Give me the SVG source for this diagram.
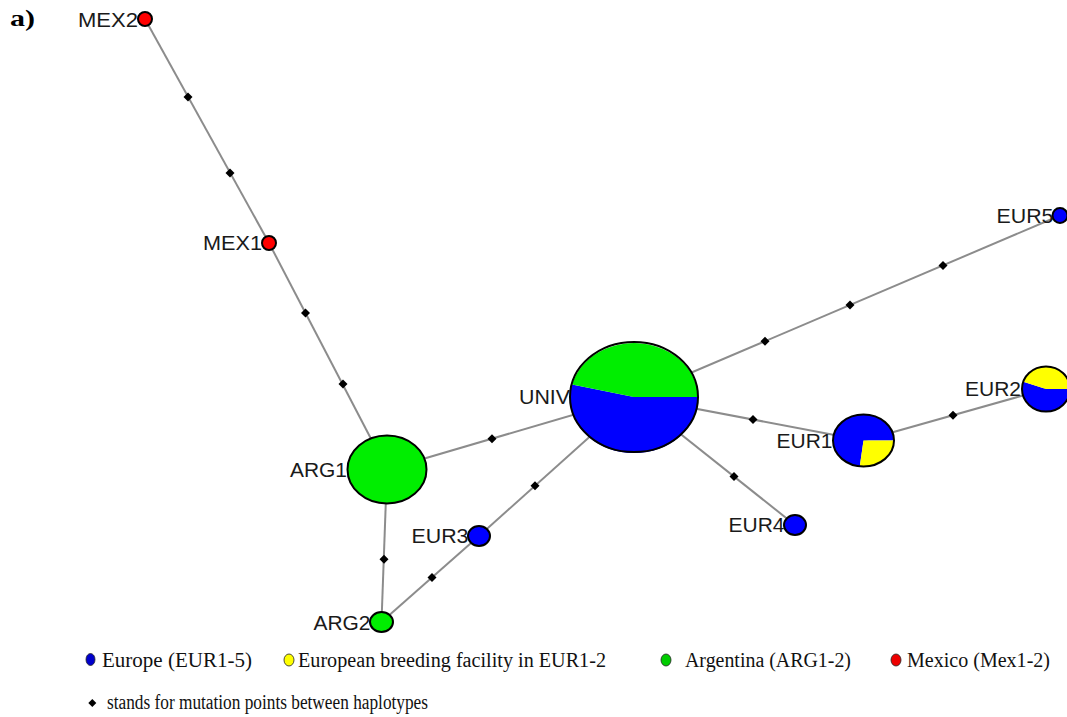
<svg xmlns="http://www.w3.org/2000/svg" width="1067" height="717" viewBox="0 0 1067 717">
<defs>
<style>
.edge{stroke:#8c8c8c;stroke-width:2;fill:none}
.mut{fill:#000}
.outline{fill:none;stroke:#000;stroke-width:2}
.lbl{font-family:"Liberation Sans",Arial,sans-serif;font-size:19.5px;fill:#1a1a1a;text-anchor:end}
.leg{font-family:"Liberation Serif","Times New Roman",serif;font-size:20px;fill:#111}
.blue{fill:#0000ff}
.green{fill:#00ee00}
.yellow{fill:#ffff00}
.red{fill:#ff0000}
</style>
</defs>
<rect width="1067" height="717" fill="#fff"/>
<text x="10" y="26" font-family="Liberation Serif,'Times New Roman',serif" font-size="24" font-weight="bold" fill="#000" textLength="25" lengthAdjust="spacingAndGlyphs">a)</text>

<g id="connectors">
<line class="edge" x1="145" y1="19" x2="269" y2="243"/>
<line class="edge" x1="269" y1="243" x2="387" y2="469.5"/>
<line class="edge" x1="387" y1="469.5" x2="634" y2="397"/>
<line class="edge" x1="387" y1="469.5" x2="381.5" y2="622"/>
<line class="edge" x1="634" y1="397" x2="1060" y2="215.5"/>
<line class="edge" x1="634" y1="397" x2="863.5" y2="440.5"/>
<line class="edge" x1="634" y1="397" x2="795" y2="525"/>
<line class="edge" x1="634" y1="397" x2="479" y2="536"/>
<line class="edge" x1="479" y1="536" x2="381.5" y2="622"/>
<line class="edge" x1="863.5" y1="440.5" x2="1046" y2="389"/>
<g id="mutations">
<polygon class="mut" points="188,92.5 192.5,97 188,101.5 183.5,97"/>
<polygon class="mut" points="230,168.5 234.5,173 230,177.5 225.5,173"/>
<polygon class="mut" points="305.5,308.5 310,313 305.5,317.5 301,313"/>
<polygon class="mut" points="343,379.5 347.5,384 343,388.5 338.5,384"/>
<polygon class="mut" points="492,434.2 496.5,438.7 492,443.2 487.5,438.7"/>
<polygon class="mut" points="384,554.8 388.5,559.3 384,563.8 379.5,559.3"/>
<polygon class="mut" points="765,336.7 769.5,341.2 765,345.7 760.5,341.2"/>
<polygon class="mut" points="850,300.5 854.5,305 850,309.5 845.5,305"/>
<polygon class="mut" points="943,260.9 947.5,265.4 943,269.9 938.5,265.4"/>
<polygon class="mut" points="753,415.1 757.5,419.6 753,424.1 748.5,419.6"/>
<polygon class="mut" points="734,472 738.5,476.5 734,481 729.5,476.5"/>
<polygon class="mut" points="535,481.3 539.5,485.8 535,490.3 530.5,485.8"/>
<polygon class="mut" points="432,573 436.5,577.5 432,582 427.5,577.5"/>
<polygon class="mut" points="953,410.8 957.5,415.3 953,419.8 948.5,415.3"/>
</g>
</g>

<g id="MEX2">
<circle class="red" cx="145" cy="19" r="7"/>
<circle class="outline" cx="145" cy="19" r="7"/>
<text class="lbl" x="138" y="26.5" textLength="60" lengthAdjust="spacingAndGlyphs">MEX2</text>
</g>
<g id="MEX1">
<circle class="red" cx="269" cy="243" r="7"/>
<circle class="outline" cx="269" cy="243" r="7"/>
<text class="lbl" x="262" y="250" textLength="59" lengthAdjust="spacingAndGlyphs">MEX1</text>
</g>
<g id="ARG1">
<ellipse class="green" cx="387" cy="469.5" rx="39.5" ry="34"/>
<ellipse class="outline" cx="387" cy="469.5" rx="39.5" ry="34"/>
<text class="lbl" x="347" y="477" textLength="57" lengthAdjust="spacingAndGlyphs">ARG1</text>
</g>
<g id="ARG2">
<ellipse class="green" cx="381.5" cy="622" rx="11.5" ry="10"/>
<ellipse class="outline" cx="381.5" cy="622" rx="11.5" ry="10"/>
<text class="lbl" x="370.5" y="629.5" textLength="57" lengthAdjust="spacingAndGlyphs">ARG2</text>
</g>
<g id="EUR3">
<ellipse class="blue" cx="479" cy="536" rx="11" ry="10"/>
<ellipse class="outline" cx="479" cy="536" rx="11" ry="10"/>
<text class="lbl" x="468.5" y="543" textLength="57" lengthAdjust="spacingAndGlyphs">EUR3</text>
</g>
<g id="UNIV">
<path class="blue" d="M634,397 L698,397 A64,55 0 1,1 572,384.5 Z"/>
<path class="green" d="M634,397 L572,384.5 A64,55 0 0,1 698,397 Z"/>
<ellipse class="outline" cx="634" cy="397" rx="64" ry="55"/>
<text class="lbl" x="570" y="404" textLength="51" lengthAdjust="spacingAndGlyphs">UNIV</text>
</g>
<g id="EUR4">
<ellipse class="blue" cx="795" cy="525" rx="11" ry="10"/>
<ellipse class="outline" cx="795" cy="525" rx="11" ry="10"/>
<text class="lbl" x="784.5" y="532" textLength="56" lengthAdjust="spacingAndGlyphs">EUR4</text>
</g>
<g id="EUR1">
<path class="blue" d="M863.5,440.5 L859.8,466.3 A30.5,26 0 1,1 894,440.5 Z"/>
<path class="yellow" d="M863.5,440.5 L894,440.5 A30.5,26 0 0,1 859.8,466.3 Z"/>
<ellipse class="outline" cx="863.5" cy="440.5" rx="30.5" ry="26"/>
<text class="lbl" x="832.5" y="447.5" textLength="56" lengthAdjust="spacingAndGlyphs">EUR1</text>
</g>
<g id="EUR2">
<path class="blue" d="M1046,389 L1070,389 A24,22.5 0 1,1 1023.3,381.75 Z"/>
<path class="yellow" d="M1046,389 L1023.3,381.75 A24,22.5 0 0,1 1070,389 Z"/>
<ellipse class="outline" cx="1046" cy="389" rx="24" ry="22.5"/>
<text class="lbl" x="1021" y="395.5" textLength="56" lengthAdjust="spacingAndGlyphs">EUR2</text>
</g>
<g id="EUR5">
<circle class="blue" cx="1060" cy="215.5" r="7.5"/>
<circle class="outline" cx="1060" cy="215.5" r="7.5"/>
<text class="lbl" x="1053.5" y="222.5" textLength="57" lengthAdjust="spacingAndGlyphs">EUR5</text>
</g>

<g id="legend">
<ellipse cx="90.5" cy="659.5" rx="4.5" ry="6" fill="#0000cc" stroke="#222" stroke-width="0.8"/>
<text class="leg" x="102" y="666.5" textLength="150" lengthAdjust="spacingAndGlyphs">Europe (EUR1-5)</text>
<ellipse cx="289" cy="660" rx="5" ry="6" fill="#ffff00" stroke="#222" stroke-width="0.8"/>
<text class="leg" x="298" y="666.5" textLength="308" lengthAdjust="spacingAndGlyphs">European breeding facility in EUR1-2</text>
<ellipse cx="666" cy="660" rx="5" ry="6" fill="#00cc00" stroke="#222" stroke-width="0.8"/>
<text class="leg" x="685" y="666.5" textLength="166" lengthAdjust="spacingAndGlyphs">Argentina (ARG1-2)</text>
<ellipse cx="896" cy="660" rx="5" ry="6" fill="#ee0000" stroke="#222" stroke-width="0.8"/>
<text class="leg" x="907" y="666.5" textLength="143" lengthAdjust="spacingAndGlyphs">Mexico (Mex1-2)</text>
<polygon points="92.3,699 96.3,703 92.3,707 88.3,703" fill="#000"/>
<text class="leg" x="107" y="708.5" textLength="321" lengthAdjust="spacingAndGlyphs">stands for mutation points between haplotypes</text>
</g>
</svg>
